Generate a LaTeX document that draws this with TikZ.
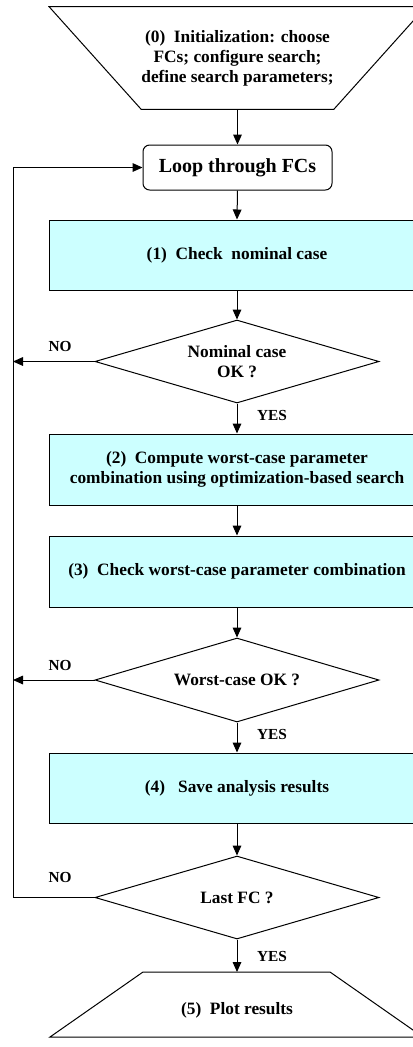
\documentclass[tikz,border=0pt]{standalone}
\usepackage{fontspec}
\setmainfont{Liberation Serif}
\usetikzlibrary{shapes.geometric,arrows.meta,calc}
\definecolor{boxcyan}{HTML}{CCFFFF}
\begin{document}
\begin{tikzpicture}[x=0.75pt,y=-0.75pt,
  every node/.style={font=\fontsize{13}{15}\selectfont\bfseries, align=center, inner sep=0pt},
  line/.style={line width=0.75pt, draw=black},
  arr/.style={line, -{Triangle[length=7.5pt,width=6.5pt]}},
  stepbox/.style={line, fill=boxcyan, minimum width=375*0.75pt, minimum height=70*0.75pt},
  decide/.style={line, diamond, aspect=3.4, minimum width=284*0.75pt, minimum height=83*0.75pt},
  loopbox/.style={line, rounded corners=5pt, minimum width=189*0.75pt, minimum height=45*0.75pt},
  lbl/.style={font=\fontsize{11.5}{13}\selectfont\bfseries}
]
\useasboundingbox (0,0) rectangle (412,1047);

% (0) initialization trapezium
\node (init) [minimum width=187*0.75pt, minimum height=102*0.75pt] at (237.5,58)
  {(0)\ \ Initialization: choose\\FCs; configure search;\\define search parameters;};
\draw[line] (init.south west) -- (init.south east) -- ($(init.north east)+(92,0)$)
  -- ($(init.north west)+(-92,0)$) -- cycle;

\node (loop) [loopbox] at (237.5,167.5) {\fontsize{15}{17}\selectfont Loop through FCs};

\node (b1) [stepbox] at (237,255) {(1)\ \ Check\ \ nominal case};
\node (d1) [decide] at (237,361.5) {Nominal case\\OK ?};
\node (b2) [stepbox, minimum height=71*0.75pt] at (237,469.5)
  {(2)\ \ Compute worst-case parameter\\combination using optimization-based search};
\node (b3) [stepbox, minimum height=71*0.75pt] at (237,571.5)
  {(3)\ \ Check worst-case parameter combination};
\node (d2) [decide, minimum height=84*0.75pt] at (237,680) {Worst-case OK ?};
\node (b4) [stepbox] at (237,788) {(4)\ \ \ Save analysis results};
\node (d3) [decide] at (237,897.5) {Last FC ?};

% (5) plot trapezium
\node (plot) at (237,1010) {(5)\ \ Plot results};
\coordinate (ptl) at (143,972);
\coordinate (ptr) at (330,972);
\coordinate (pbl) at (50,1037);
\coordinate (pbr) at (423,1037);
\draw[line] (ptl) -- (ptr) -- (pbr) -- (pbl) -- cycle;

\coordinate (lx) at (13,0);

% main flow
\draw[arr] (init.south) -- (loop.north);
\draw[arr] (loop.south) -- (b1.north);
\draw[arr] (b1.south) -- (d1.north);
\draw[arr] (d1.south) -- (b2.north);
\draw[arr] (b2.south) -- (b3.north);
\draw[arr] (b3.south) -- (d2.north);
\draw[arr] (d2.south) -- (b4.north);
\draw[arr] (b4.south) -- (d3.north);
\draw[arr] (d3.south) -- (d3.south |- ptl);

% NO branches
\draw[arr] (d1.west) -- (d1.west -| lx);
\draw[arr] (d2.west) -- (d2.west -| lx);
\draw[arr] (d3.west) -- (d3.west -| lx) -- (loop.west -| lx) -- (loop.west);

% labels
\node (no1) [lbl] at (60,346) {NO};
\node (no2) [lbl] at (60,665) {NO};
\node (no3) [lbl] at (60,877) {NO};
\node (yes1) [lbl] at (272,415) {YES};
\node (yes2) [lbl] at (272,734) {YES};
\node (yes3) [lbl] at (272,956) {YES};
\end{tikzpicture}
\end{document}
